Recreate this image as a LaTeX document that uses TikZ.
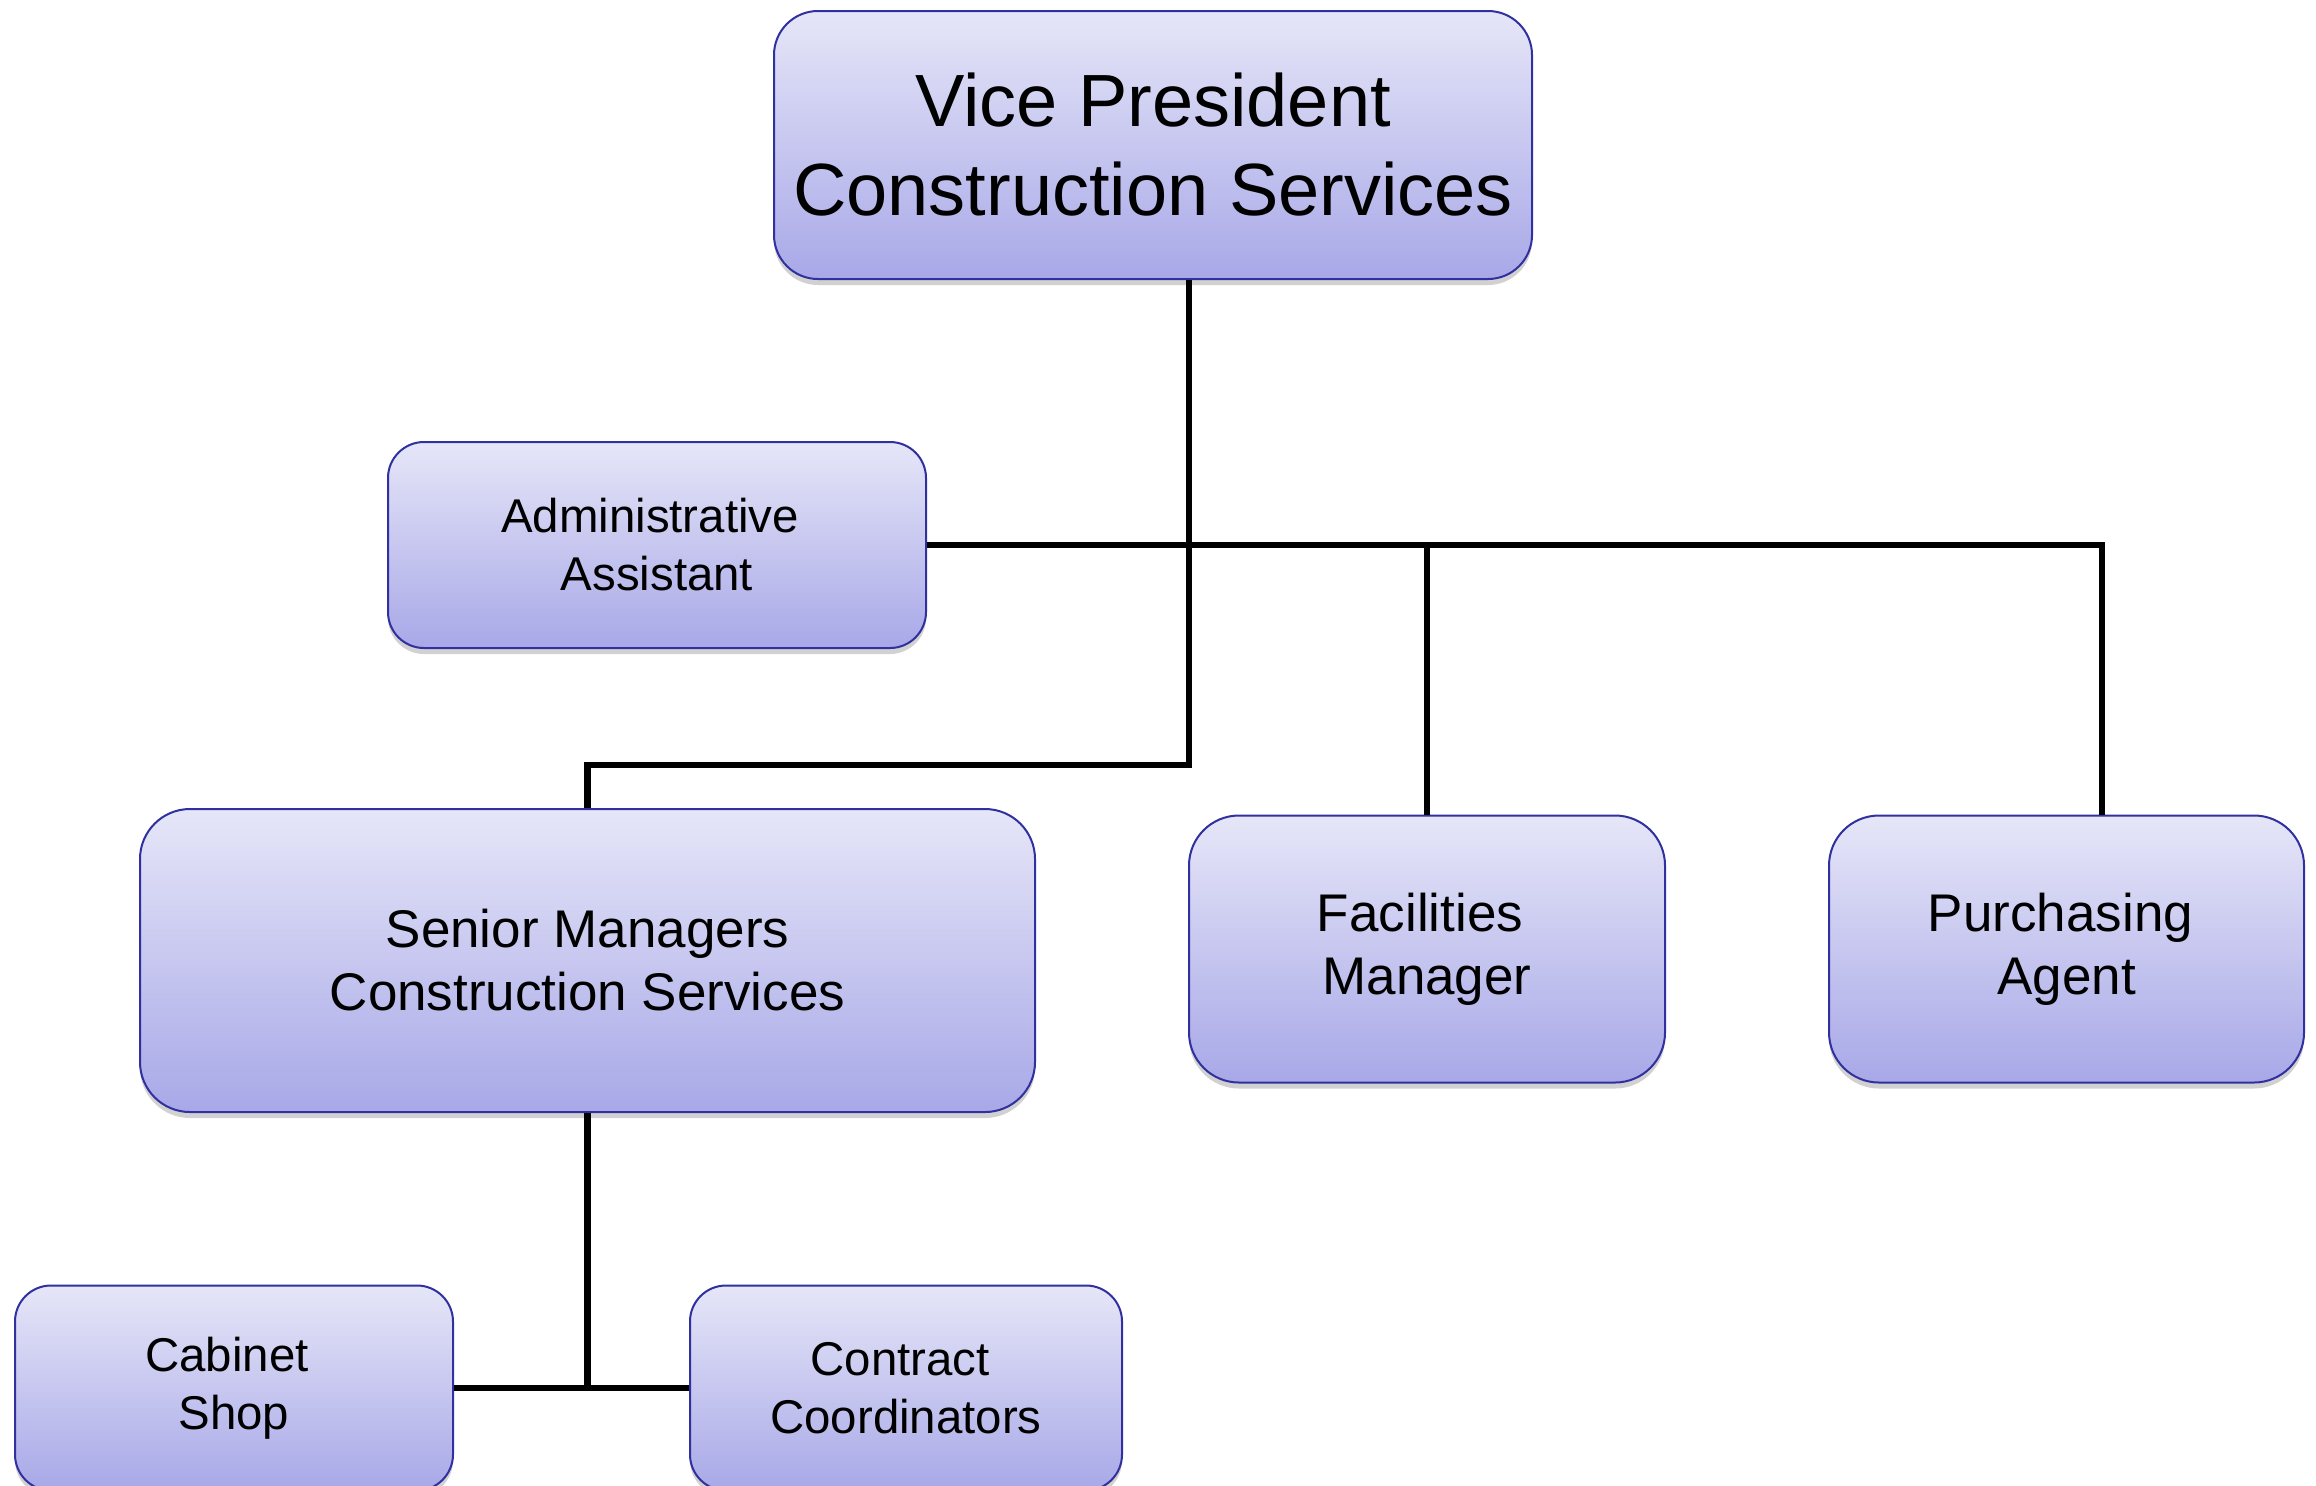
\documentclass[tikz,border=0pt]{standalone}
\usepackage{fontspec}
\setmainfont{Liberation Sans}
\usetikzlibrary{shadows}
\definecolor{boxtop}{HTML}{E6E6F8}
\definecolor{boxbot}{HTML}{A8A8E8}
\definecolor{boxline}{HTML}{30309E}
\tikzset{
  orgbox/.style={draw=boxline, line width=1pt, top color=boxtop, bottom color=boxbot,
    align=center, inner sep=0pt, text=black,
    drop shadow={shadow xshift=0pt, shadow yshift=-3pt, opacity=0.3, fill=black!60}},
  conn/.style={draw=black, line width=3.3pt},
  bigtxt/.style={font=\fontsize{37}{44.5}\selectfont},
  midtxt/.style={font=\fontsize{26.5}{31.5}\selectfont},
  smalltxt/.style={font=\fontsize{23.7}{29}\selectfont}
}
\begin{document}
\begin{tikzpicture}[x=0.5pt,y=-0.5pt]
\useasboundingbox (0,0) rectangle (2316,1485);
% boxes
\node[orgbox, bigtxt, rounded corners=22pt, minimum width=379pt, minimum height=134pt] (vp) at (1153,145) {Vice President\\Construction Services};
\node[orgbox, smalltxt, rounded corners=18pt, minimum width=269pt, minimum height=103pt] (adm) at (657,545) {Administrative\hspace*{7pt}\\Assistant};
\node[orgbox, midtxt, rounded corners=25pt, minimum width=447.5pt, minimum height=151.5pt] (sm) at (587.5,960.5) {Senior Managers\\Construction Services};
\node[orgbox, midtxt, rounded corners=25pt, minimum width=238pt, minimum height=133.5pt] (fac) at (1427,949) {Facilities\hspace*{7pt}\\Manager};
\node[orgbox, midtxt, rounded corners=25pt, minimum width=237.5pt, minimum height=133.5pt] (pa) at (2066.5,949) {Purchasing\hspace*{6pt}\\Agent};
\node[orgbox, smalltxt, rounded corners=18pt, minimum width=219pt, minimum height=102.5pt] (cab) at (234,1388) {Cabinet\hspace*{7pt}\\Shop};
\node[orgbox, smalltxt, rounded corners=18pt, minimum width=216pt, minimum height=102.5pt] (con) at (906,1388) {Contract\hspace*{6pt}\\Coordinators};
% junctions
\coordinate (j1) at (1189,545);
\coordinate (j2) at (1189,765);
\coordinate (pj) at (2102,545);
% connectors
\draw[conn] (vp.south -| j1) -- (j2) -- (j2 -| sm.north) -- (sm.north);
\draw[conn] (adm.east) -- (pj) -- (pj |- pa.north);
\draw[conn] (fac.north) -- (fac.north |- j1);
\draw[conn] (cab.east) -- (con.west);
\draw[conn] (sm.south) -- (sm.south |- cab.east);
\end{tikzpicture}
\end{document}
